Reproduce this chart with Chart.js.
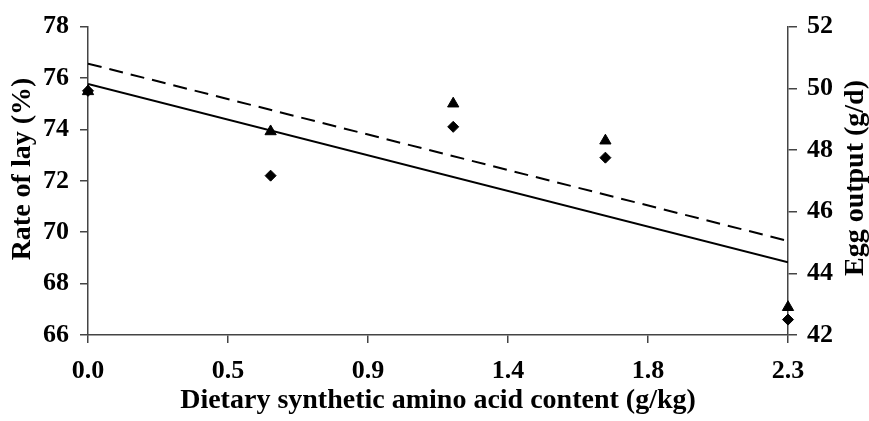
<!DOCTYPE html>
<html>
<head>
<meta charset="utf-8">
<script src="https://cdn.jsdelivr.net/npm/chart.js@4/dist/chart.umd.min.js"></script>
<style>
  html, body { margin: 0; padding: 0; background: #fff; }
  #wrap { width: 869px; height: 421px; position: relative; }
</style>
</head>
<body>
<div id="wrap"><canvas id="layChart"></canvas></div>
<script>
// dietary synthetic amino acid (g/kg)
const doses = [0, 0.6, 1.2, 1.7, 2.3];
const rateOfLay = [75.5, 72.2, 74.1, 72.9, 66.6];   // diamonds, left axis
const eggOutput = [49.9, 48.6, 49.5, 48.3, 42.9];   // triangles, right axis

// regression line end points
const fitX = [0, 2.3];
const layFit = [75.77, 68.83];
const eggFit = [50.8, 45.05];

const xTicks = [0, 0.46, 0.92, 1.38, 1.84, 2.3];

const serif = "'Liberation Serif', 'Times New Roman', serif";
const axisColor = '#444';
const tickFont = { family: serif, size: 26, weight: 'bold' };
const titleFont = { family: serif, size: 28, weight: 'bold' };

const toPoints = (xs, ys) => xs.map((x, i) => ({ x, y: ys[i] }));

// both y titles read bottom-to-top, so draw them by hand
const yTitles = {
  id: 'yTitles',
  afterDraw(chart) {
    const { ctx } = chart;
    const draw = (text, x, y) => {
      ctx.save();
      ctx.translate(x, y);
      ctx.rotate(-Math.PI / 2);
      ctx.font = `bold 28px ${serif}`;
      ctx.fillStyle = '#000';
      ctx.textAlign = 'center';
      ctx.textBaseline = 'middle';
      ctx.fillText(text, 0, 0);
      ctx.restore();
    };
    draw('Rate of lay (%)', 23, 169);
    draw('Egg output (g/d)', 856, 178);
  }
};

const ctx = document.getElementById('layChart').getContext('2d');

new Chart(ctx, {
  type: 'line',
  data: {
    datasets: [
      {
        label: 'Rate of lay fit',
        data: toPoints(fitX, layFit),
        yAxisID: 'y',
        borderColor: '#000',
        borderWidth: 2,
        pointRadius: 0,
        fill: false
      },
      {
        label: 'Egg output fit',
        data: toPoints(fitX, eggFit),
        yAxisID: 'y2',
        borderColor: '#000',
        borderWidth: 2,
        borderDash: [14, 8],
        pointRadius: 0,
        fill: false
      },
      {
        label: 'Rate of lay',
        data: toPoints(doses, rateOfLay),
        yAxisID: 'y',
        showLine: false,
        pointStyle: 'rectRot',
        pointRadius: 5.5,
        backgroundColor: '#000',
        borderColor: '#000',
        clip: false
      },
      {
        label: 'Egg output',
        data: toPoints(doses, eggOutput),
        yAxisID: 'y2',
        showLine: false,
        pointStyle: 'triangle',
        pointRadius: 6.5,
        backgroundColor: '#000',
        borderColor: '#000',
        clip: false
      }
    ]
  },
  plugins: [yTitles],
  options: {
    responsive: true,
    maintainAspectRatio: false,
    animation: false,
    layout: { padding: { top: 17, left: 0, right: 0, bottom: 0 } },
    plugins: {
      legend: { display: false },
      tooltip: { enabled: false }
    },
    scales: {
      x: {
        type: 'linear',
        min: 0,
        max: 2.3,
        afterBuildTicks: (scale) => { scale.ticks = xTicks.map(v => ({ value: v })); },
        afterFit: (scale) => { scale.height = 86; },
        border: { display: true, color: axisColor, width: 1.5 },
        grid: { drawOnChartArea: false, drawTicks: true, tickLength: 8, color: axisColor, lineWidth: 1.5 },
        ticks: {
          padding: 13,
          color: '#000',
          maxRotation: 0,
          font: tickFont,
          callback: (v) => Number(v).toFixed(1)
        },
        title: {
          display: true,
          text: 'Dietary synthetic amino acid content (g/kg)',
          color: '#000',
          padding: { top: 0, bottom: 3 },
          font: titleFont
        }
      },
      y: {
        position: 'left',
        min: 66,
        max: 78,
        afterFit: (scale) => { scale.width = 88; },
        border: { display: true, color: axisColor, width: 1.5 },
        grid: { drawOnChartArea: false, drawTicks: true, tickLength: 8, color: axisColor, lineWidth: 1.5 },
        ticks: {
          stepSize: 2,
          padding: 11,
          color: '#000',
          font: tickFont
        }
      },
      y2: {
        position: 'right',
        min: 42,
        max: 52,
        afterFit: (scale) => { scale.width = 81; },
        border: { display: true, color: axisColor, width: 1.5 },
        grid: { drawOnChartArea: false, drawTicks: true, tickLength: 9, color: axisColor, lineWidth: 1.5 },
        ticks: {
          stepSize: 2,
          padding: 10,
          color: '#000',
          font: tickFont
        }
      }
    }
  }
});
</script>
</body>
</html>
